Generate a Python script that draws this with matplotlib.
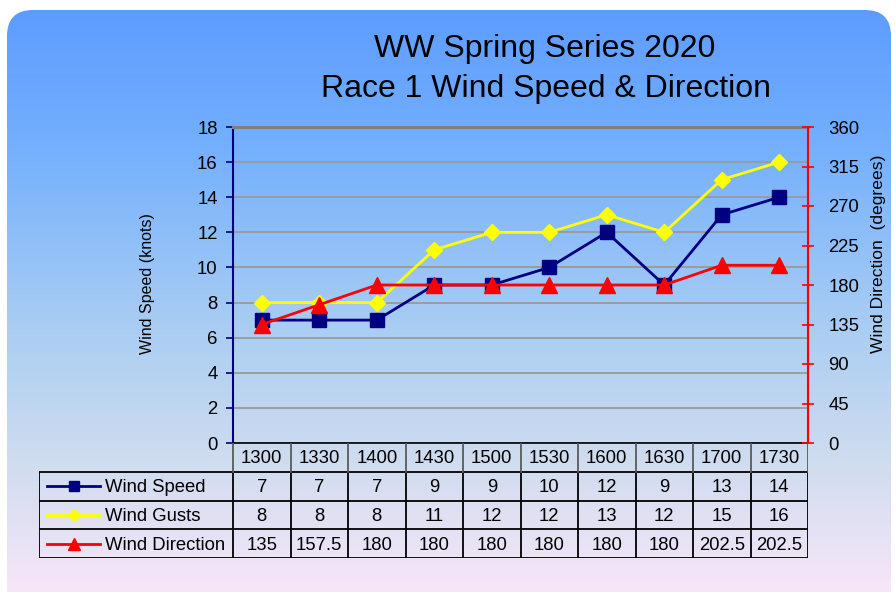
import numpy as np
import matplotlib
matplotlib.use('Agg')
import matplotlib.pyplot as plt
from matplotlib.patches import FancyBboxPatch
from matplotlib.colors import LinearSegmentedColormap

plt.rcParams['font.family'] = ['Liberation Sans', 'DejaVu Sans']

# --- data ---
times = ['1300', '1330', '1400', '1430', '1500', '1530', '1600', '1630', '1700', '1730']
wind_speed = [7, 7, 7, 9, 9, 10, 12, 9, 13, 14]
wind_gusts = [8, 8, 8, 11, 12, 12, 13, 12, 15, 16]
wind_dir = [135, 157.5, 180, 180, 180, 180, 180, 180, 202.5, 202.5]
series_names = ['Wind Speed', 'Wind Gusts', 'Wind Direction']

# styles for each series: colour, marker, marker size (chart), marker size (table key)
styles = [
    ('#000080', 's', 10, 7),
    ('#FFFF00', 'D', 8, 6),
    ('#FF0000', '^', 11, 8),
]
FS = 13.3

W, H = 896, 592
fig = plt.figure(figsize=(W / 100, H / 100), dpi=100)
fig.patch.set_facecolor('white')

# background: rounded box with vertical gradient
bg = fig.add_axes([0, 0, 1, 1])
bg.set_xlim(0, W)
bg.set_ylim(H, 0)
bg.axis('off')
box = FancyBboxPatch((7, 10), 884, 640, boxstyle='round,pad=0,rounding_size=26',
                     facecolor='none', edgecolor='none')
bg.add_patch(box)
cmap = LinearSegmentedColormap.from_list(
    'bg', [(0.0, '#5b9bff'), (0.25, '#74b0fd'), (0.55, '#a9cdf3'),
           (0.78, '#cfdcef'), (1.0, '#f7e6f8')])
grad = np.linspace(0, 1, 256).reshape(-1, 1)
im = bg.imshow(grad, cmap=cmap, extent=[0, W, H, 0], aspect='auto')
im.set_clip_path(box)

# --- main plot area ---
px_l, px_r, px_t, px_b = 233, 808, 127, 443
ax = fig.add_axes([px_l / W, 1 - px_b / H, (px_r - px_l) / W, (px_b - px_t) / H])
ax.patch.set_alpha(0)
x = np.arange(len(times))
ax.set_xlim(-0.5, len(times) - 0.5)
ax.set_ylim(0, 18)
ax.set_yticks(np.arange(0, 19, 2))
ax.yaxis.grid(True, color='#9a9a9a', lw=1.3)
ax.set_axisbelow(True)
ax.tick_params(axis='x', length=0, labelbottom=False)
ax.tick_params(axis='y', direction='out', length=5, width=1.2, color='#000080',
               labelsize=FS, pad=6)
ax.spines['left'].set_color('#000080')
ax.spines['left'].set_linewidth(1.5)
ax.spines['top'].set_color('#808080')
ax.spines['top'].set_linewidth(2.2)
ax.spines['right'].set_visible(False)
ax.spines['bottom'].set_color('black')
ax.spines['bottom'].set_linewidth(1.2)

for vals, (c, m, ms, _) in zip([wind_speed, wind_gusts], styles[:2]):
    ax.plot(x, vals, color=c, marker=m, markersize=ms, lw=2, zorder=3)

ax2 = ax.twinx()
ax2.set_ylim(0, 360)
ax2.set_yticks(np.arange(0, 361, 45))
ax2.tick_params(axis='y', direction='inout', length=9, width=1.2, color='#FF0000',
                labelsize=FS, pad=10)
ax2.spines['right'].set_color('#FF0000')
ax2.spines['right'].set_linewidth(1.5)
for s in ['left', 'top', 'bottom']:
    ax2.spines[s].set_visible(False)
c, m, ms, _ = styles[2]
ax2.plot(x, wind_dir, color=c, marker=m, markersize=ms, lw=2, zorder=3)

# axis titles
fig.text(147 / W, 1 - 284 / H, 'Wind Speed (knots)', rotation=90, ha='center',
         va='center', fontsize=11.5)
fig.text(878 / W, 1 - 254 / H, 'Wind Direction  (degrees)', rotation=90, ha='center',
         va='center', fontsize=12.6)

# --- data table ---
cell = (px_r - px_l) / len(times)       # px per category
key_w = 194                               # px width of key column
x0 = -0.5 - key_w / cell
tax = fig.add_axes([(px_l - key_w) / W, 1 - 558 / H, (px_r - px_l + key_w) / W, 115 / H])
tax.set_xlim(x0, len(times) - 0.5)
tax.set_ylim(4, 0)
tax.axis('off')

xe = len(times) - 0.5
for r in range(1, 5):
    tax.plot([x0, xe], [r, r], color='black', lw=1.3)
tax.plot([x0, x0], [1, 4], color='black', lw=1.3)
for i in range(len(times) + 1):
    xv = -0.5 + i
    tax.plot([xv, xv], [1, 4], color='black', lw=1.3)
    tax.plot([xv, xv], [0, 1], color='#5a5a5a', lw=1.3)
for i, t in enumerate(times):
    tax.text(i, 0.55, t, ha='center', va='center', fontsize=FS)

rows = [wind_speed, wind_gusts, wind_dir]
for r, (name, vals, (c, m, _, kms)) in enumerate(zip(series_names, rows, styles)):
    yc = r + 1.5
    lx = [-0.5 - (px_l - 47) / cell, -0.5 - (px_l - 100) / cell]
    tax.plot(lx, [yc, yc], color=c, lw=2)
    tax.plot([np.mean(lx)], [yc], color=c, marker=m, markersize=kms)
    tax.text(-0.5 - (px_l - 105) / cell, yc + 0.05, name, ha='left', va='center',
             fontsize=FS)
    for i, v in enumerate(vals):
        tax.text(i, yc + 0.05, f'{v:g}', ha='center', va='center', fontsize=FS)

# title
fig.text(545 / W, 1 - 49 / H, 'WW Spring Series 2020', ha='center', va='center', fontsize=23)
fig.text(546 / W, 1 - 89 / H, 'Race 1 Wind Speed & Direction', ha='center', va='center',
         fontsize=23)

fig.savefig('out.png', dpi=100, facecolor='white')
